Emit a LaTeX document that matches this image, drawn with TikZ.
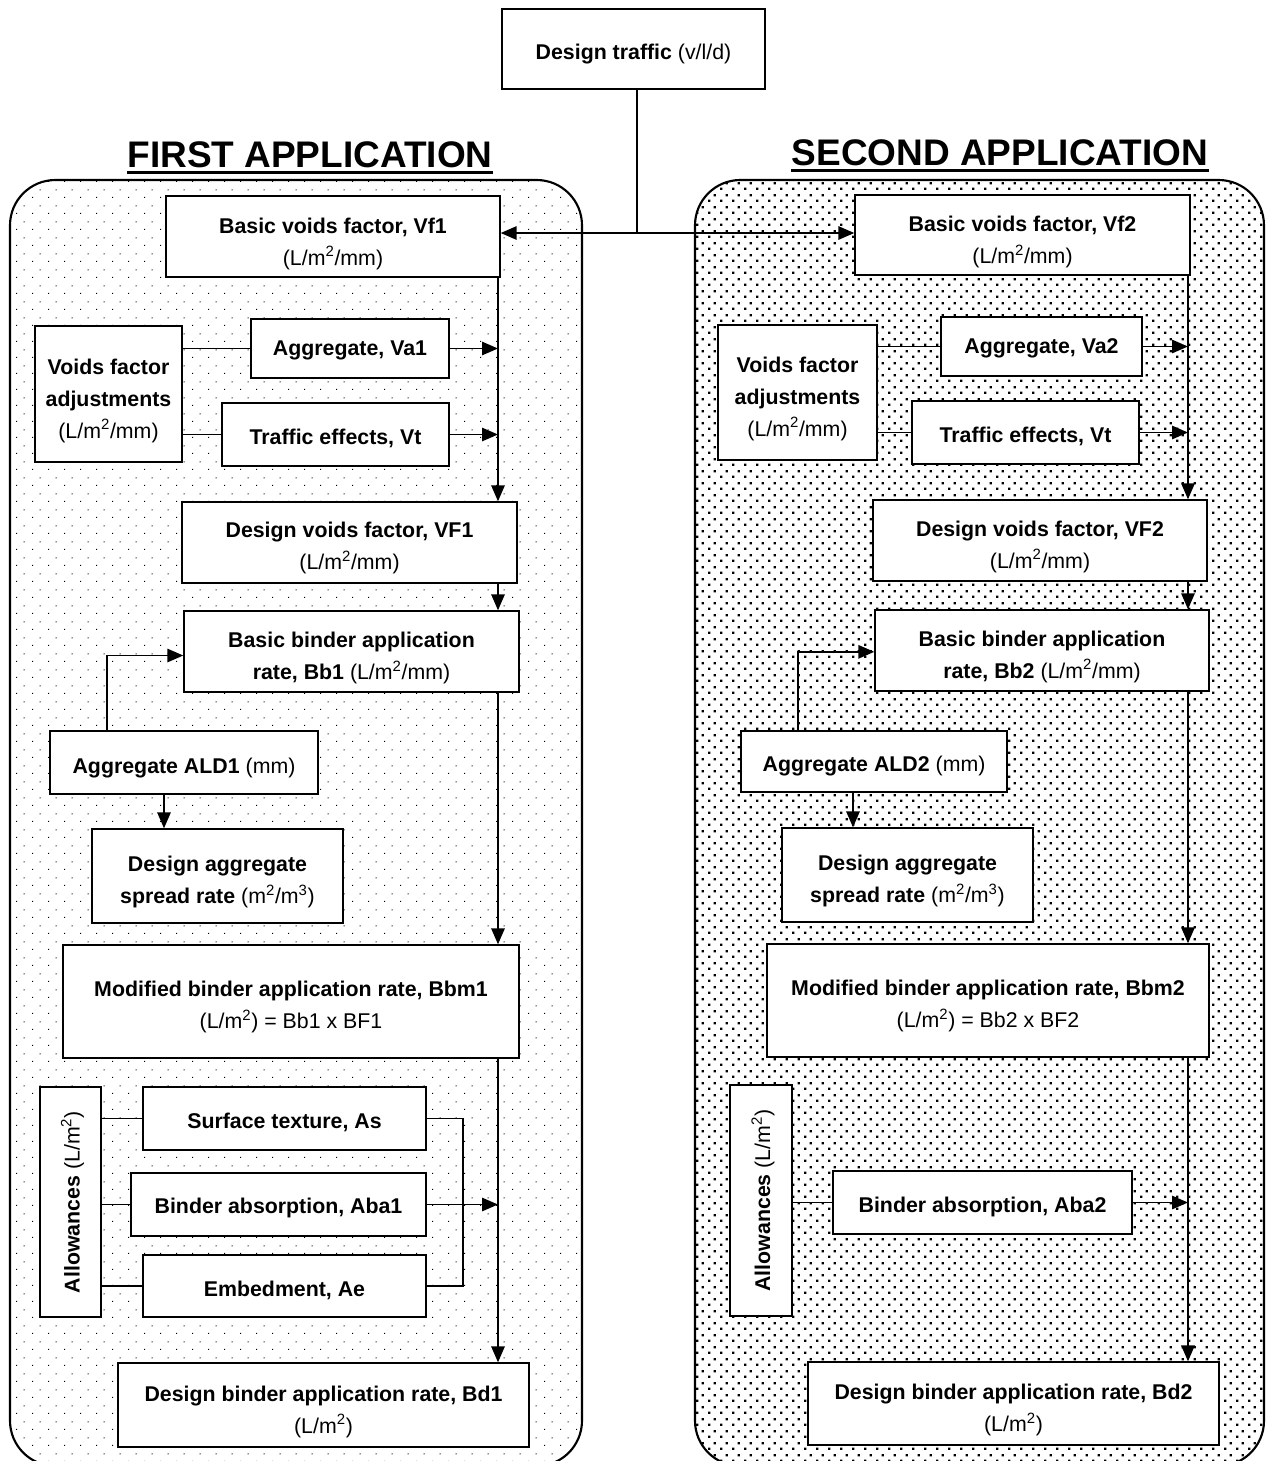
\documentclass[tikz,border=0pt]{standalone}
\usepackage{fontspec}
\setmainfont{Liberation Sans}
\usetikzlibrary{arrows.meta,patterns.meta}

% light staggered dot fill (first application)
\tikzdeclarepattern{
  name=sparsedots,
  type=uncolored,
  bottom left={(0pt,0pt)},
  top right={(12pt,12pt)},
  tile size={(12pt,12pt)},
  code={
    \pgfpathrectangle{\pgfpoint{0pt}{0pt}}{\pgfpoint{0.9pt}{0.9pt}}
    \pgfpathrectangle{\pgfpoint{6pt}{6pt}}{\pgfpoint{0.9pt}{0.9pt}}
    \pgfusepath{fill}
  }
}
% heavier staggered dot fill (second application)
\tikzdeclarepattern{
  name=densedots,
  type=uncolored,
  bottom left={(0pt,0pt)},
  top right={(9pt,9pt)},
  tile size={(9pt,9pt)},
  code={
    \pgfpathrectangle{\pgfpoint{0pt}{0pt}}{\pgfpoint{1.9pt}{1.9pt}}
    \pgfpathrectangle{\pgfpoint{4.5pt}{4.5pt}}{\pgfpoint{1.9pt}{1.9pt}}
    \pgfusepath{fill}
  }
}

\tikzset{
  box/.style={draw, fill=white, line width=1pt, inner sep=0pt},
  boxtext/.style={inner sep=0pt, align=center, font=\fontsize{16pt}{24pt}\selectfont},
  spine/.style={line width=1.45pt},
  link/.style={line width=0.9pt},
  tip/.style={-{Triangle[length=12pt,width=10pt]}},
  bothtips/.style={{Triangle[length=12pt,width=10pt]}-{Triangle[length=12pt,width=10pt]}},
  panel/.style={line width=1.6pt, rounded corners=34pt},
  heading/.style={font=\fontsize{27.75pt}{30pt}\selectfont\bfseries, inner sep=0pt, anchor=base},
}

% box from its corners (x1,y1)-(x2,y2) in pixel units; optional text drop in pixels
\newcommand\flowbox[7][5.5]{%
  \node[box, minimum width={(#5-#3)*0.75pt}, minimum height={(#6-#4)*0.75pt},
    label={[boxtext, yshift={-#1*0.75pt}]center:{#7}}]
    (#2) at ({(#3+#5)/2},{(#4+#6)/2}) {};}

\begin{document}
\begin{tikzpicture}[x=0.75pt,y=-0.75pt]
\useasboundingbox (0,0) rectangle (1266,1461);

% panels
\draw[panel, pattern=sparsedots] (10,180) rectangle (582,1466);
\draw[panel, pattern=densedots] (695,180) rectangle (1264,1466);

% headings
\node[heading] (ha) at (310,167) {FIRST APPLICATION};
\node[heading] (hb) at (1000,165) {SECOND APPLICATION};
\draw[line width=2.6pt] ([yshift=-4pt]ha.base west) -- ([yshift=-4pt]ha.base east);
\draw[line width=2.6pt] ([yshift=-4pt]hb.base west) -- ([yshift=-4pt]hb.base east);

% top box
\flowbox{traffic}{502}{9}{765}{89}{{\bfseries Design traffic} (v/l/d)}

% ---------- first application ----------
\flowbox[7]{vfa}{166}{196}{500}{277}{{\bfseries Basic voids factor, Vf1}\\(L/m\textsuperscript{2}/mm)}
\flowbox[6.5]{adja}{35}{326}{182}{462}{{\bfseries Voids factor}\\{\bfseries adjustments}\\(L/m\textsuperscript{2}/mm)}
\flowbox[1.5]{vaa}{251}{319}{449}{378}{\bfseries Aggregate, Va1}
\flowbox[4]{vta}{222}{403}{449}{466}{\bfseries Traffic effects, Vt}
\flowbox{dvfa}{182}{502}{517}{583}{{\bfseries Design voids factor, VF1}\\(L/m\textsuperscript{2}/mm)}
\flowbox[6.5]{bba}{184}{611}{519}{692}{{\bfseries Basic binder application}\\{\bfseries rate, Bb1} (L/m\textsuperscript{2}/mm)}
\flowbox[6]{alda}{50}{731}{318}{794}{{\bfseries Aggregate ALD1} (mm)}
\flowbox[6]{spra}{92}{829}{343}{923}{{\bfseries Design aggregate}\\{\bfseries spread rate} (m\textsuperscript{2}/m\textsuperscript{3})}
\flowbox{bbma}{63}{945}{519}{1058}{{\bfseries Modified binder application rate, Bbm1}\\(L/m\textsuperscript{2}) = Bb1 x BF1}
\flowbox{alwa}{40}{1087}{101}{1317}{}
\node[boxtext, rotate=90] (alwta) at ([xshift=1.5pt]alwa.center) {{\bfseries Allowances} (L/m\textsuperscript{2})};
\flowbox[4]{asa}{143}{1087}{426}{1150}{\bfseries Surface texture, As}
\flowbox[3.5]{abaa}{131}{1173}{426}{1236}{\bfseries Binder absorption, Aba1}
\flowbox[4]{aea}{143}{1255}{426}{1317}{\bfseries Embedment, Ae}
\flowbox[6.5]{bda}{118}{1363}{529}{1447}{{\bfseries Design binder application rate, Bd1}\\(L/m\textsuperscript{2})}

% ---------- second application ----------
\flowbox[7]{vfb}{855}{195}{1190}{275}{{\bfseries Basic voids factor, Vf2}\\(L/m\textsuperscript{2}/mm)}
\flowbox[6]{adjb}{718}{325}{877}{460}{{\bfseries Voids factor}\\{\bfseries adjustments}\\(L/m\textsuperscript{2}/mm)}
\flowbox[2]{vab}{941}{317}{1142}{376}{\bfseries Aggregate, Va2}
\flowbox[4]{vtb}{912}{401}{1139}{464}{\bfseries Traffic effects, Vt}
\flowbox[6]{dvfb}{873}{500}{1207}{581}{{\bfseries Design voids factor, VF2}\\(L/m\textsuperscript{2}/mm)}
\flowbox[6]{bbb}{875}{610}{1209}{691}{{\bfseries Basic binder application}\\{\bfseries rate, Bb2} (L/m\textsuperscript{2}/mm)}
\flowbox[5]{aldb}{741}{731}{1007}{792}{{\bfseries Aggregate ALD2} (mm)}
\flowbox[6]{sprb}{782}{828}{1033}{922}{{\bfseries Design aggregate}\\{\bfseries spread rate} (m\textsuperscript{2}/m\textsuperscript{3})}
\flowbox{bbmb}{767}{944}{1209}{1057}{{\bfseries Modified binder application rate, Bbm2}\\(L/m\textsuperscript{2}) = Bb2 x BF2}
\flowbox{alwb}{730}{1085}{792}{1316}{}
\node[boxtext, rotate=90] (alwtb) at ([xshift=1.5pt]alwb.center) {{\bfseries Allowances} (L/m\textsuperscript{2})};
\flowbox[4]{abab}{833}{1171}{1132}{1234}{\bfseries Binder absorption, Aba2}
\flowbox[6.5]{bdb}{808}{1362}{1219}{1445}{{\bfseries Design binder application rate, Bd2}\\(L/m\textsuperscript{2})}

% guide coordinates
\coordinate (split) at (637,233);
\coordinate (spa) at (498,0);
\coordinate (spb) at (1188,0);
\coordinate (upa) at (107,0);
\coordinate (dna) at (164,0);
\coordinate (upb) at (798,0);
\coordinate (dnb) at (853,0);
\coordinate (brka) at (463,0);

% design traffic feeds both basic voids factors
\draw[spine] (split |- traffic.south) -- (split);
\draw[spine, bothtips] (split -| vfa.east) -- (split -| vfb.west);

% ---------- first application connectors ----------
\draw[spine, tip] (vfa.south -| spa) -- (dvfa.north -| spa);
\draw[spine, tip] (dvfa.south -| spa) -- (bba.north -| spa);
\draw[spine, tip] (bba.south -| spa) -- (bbma.north -| spa);
\draw[spine, tip] (bbma.south -| spa) -- (bda.north -| spa);
\draw[link] (adja.east |- vaa.west) -- (vaa.west);
\draw[link] (adja.east |- vta.west) -- (vta.west);
\draw[spine, tip] (vaa.east) -- (vaa.east -| spa);
\draw[spine, tip] (vta.east) -- (vta.east -| spa);
\draw[spine, tip] (alda.north -| upa) |- ([yshift=-3pt]bba.west);
\draw[spine, tip] (alda.south -| dna) -- (spra.north -| dna);
\draw[link] (alwa.east |- asa.west) -- (asa.west);
\draw[link] (alwa.east |- abaa.west) -- (abaa.west);
\draw[link] (alwa.east |- aea.west) -- (aea.west);
\draw[link] (asa.east) -- (asa.east -| brka) -- (aea.east -| brka) -- (aea.east);
\draw[spine, tip] (abaa.east) -- (abaa.east -| spa);

% ---------- second application connectors ----------
\draw[spine, tip] (vfb.south -| spb) -- (dvfb.north -| spb);
\draw[spine, tip] (dvfb.south -| spb) -- (bbb.north -| spb);
\draw[spine, tip] (bbb.south -| spb) -- (bbmb.north -| spb);
\draw[spine, tip] (bbmb.south -| spb) -- (bdb.north -| spb);
\draw[link] (adjb.east |- vab.west) -- (vab.west);
\draw[link] (adjb.east |- vtb.west) -- (vtb.west);
\draw[spine, tip] (vab.east) -- (vab.east -| spb);
\draw[spine, tip] (vtb.east) -- (vtb.east -| spb);
\draw[spine, tip] (aldb.north -| upb) |- ([yshift=-1pt]bbb.west);
\draw[spine, tip] (aldb.south -| dnb) -- (sprb.north -| dnb);
\draw[link] (alwb.east |- abab.west) -- (abab.west);
\draw[spine, tip] (abab.east) -- (abab.east -| spb);
\end{tikzpicture}
\end{document}
